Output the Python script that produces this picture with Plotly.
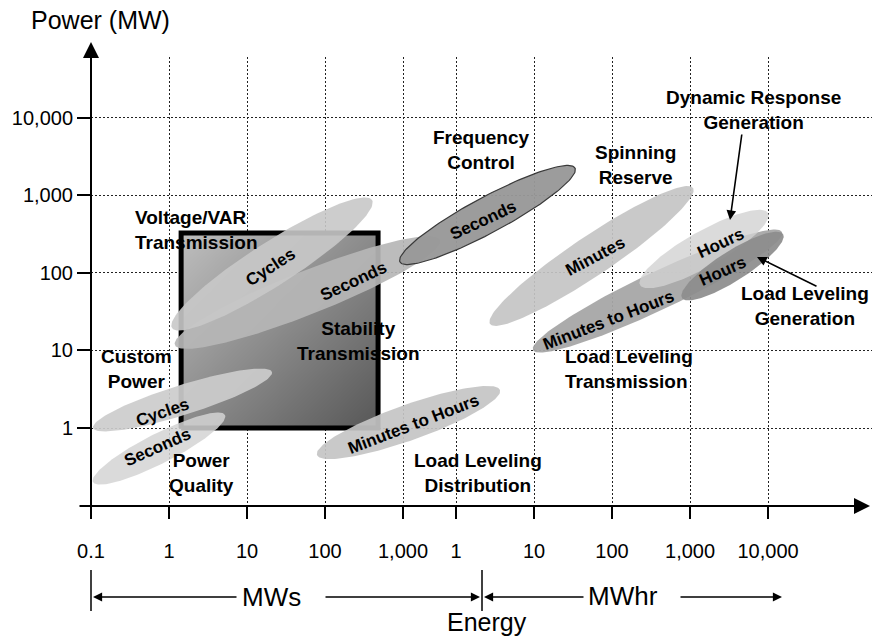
import numpy as np
import plotly.graph_objects as go

# ---------------- data ----------------
mw_ticks = [0.1, 1, 10, 100, 1000]
mw_tick_text = ["0.1", "1", "10", "100", "1,000"]
mwh_ticks = [1, 10, 100, 1000, 10000]
mwh_tick_text = ["1", "10", "100", "1,000", "10,000"]
power_ticks = [1, 10, 100, 1000, 10000]
power_tick_text = ["1", "10", "100", "1,000", "10,000"]

# Power Quality / Stability block: size (MW) and power (MW) extents
block_size_mw = [1.43, 479]
block_power_mw = [1, 326]

# discharge-duration bands (drawn in this order)
band_text = ["Minutes to Hours", "Seconds", "Cycles", "Seconds", "Cycles",
             "Seconds", "Minutes", "Minutes to Hours", "Hours", "Hours"]
band_from_size = [78.9, 0.106, 0.106, 1.19, 1.093, 915, 2.73, 9.7, 228.6, 789]
band_from_unit = ["MW", "MW", "MW", "MW", "MW", "MW", "MWh", "MWh", "MWh", "MWh"]
band_to_size = [3.66, 5.22, 20.9, 2980, 400.6, 33.5, 1092, 15110, 10000, 15570]
band_to_unit = ["MWh", "MW", "MW", "MW", "MW", "MWh", "MWh", "MWh", "MWh", "MWh"]
band_from_power = [0.449, 0.201, 1.0, 11.7, 19.4, 137.8, 21.9, 10.1, 69.6, 47.3]
band_to_power = [3.09, 1.47, 5.27, 264.7, 867, 2242, 1238, 335.6, 590, 316]
band_spread_dec = [0.46, 0.385, 0.385, 0.56, 0.56, 0.46, 0.51, 0.49, 0.46, 0.385]

# ---------------- styles / layout helpers ----------------
band_fill = ["rgba(196,196,196,0.92)", "rgba(212,212,212,0.85)", "rgba(204,204,204,0.92)",
             "rgba(182,182,182,0.92)", "rgba(200,200,200,0.90)", "rgba(152,152,152,0.96)",
             "rgba(196,196,196,0.92)", "rgba(166,166,166,0.95)", "rgba(210,210,210,0.80)",
             "rgba(140,140,140,0.92)"]
band_line = ["rgba(0,0,0,0)"] * 5 + ["#3a3a3a"] + ["rgba(0,0,0,0)"] * 4

FONT = "Arial, Liberation Sans, sans-serif"
W, H = 872, 638
PL, PR, PT, PB = 91, 872, 57, 506       # plot area in pixels
PX_DEC_X = 78.0
MWH_OFFSET = 4.68                        # decades from 0.1 MW to 1 MWh on the axis
Y_LO, Y_HI = -1.005, 4.781


def xpos(v, unit):
    return np.log10(v) + (1.0 if unit == "MW" else MWH_OFFSET)


def ypos(p):
    return np.log10(p)


def paper(px, py):
    return (px - PL) / (PR - PL), (PB - py) / (PB - PT)


def ellipse(x0, y0, x1, y1, spread, n=160):
    cx, cy = (x0 + x1) / 2, (y0 + y1) / 2
    a = np.hypot(x1 - x0, y1 - y0) / 2
    b = spread / 2
    th = np.arctan2(y1 - y0, x1 - x0)
    t = np.linspace(0, 2 * np.pi, n)
    ex, ey = a * np.cos(t), b * np.sin(t)
    return cx + ex * np.cos(th) - ey * np.sin(th), cy + ex * np.sin(th) + ey * np.cos(th)


fig = go.Figure()

# block with diagonal gradient
bx0, bx1 = xpos(block_size_mw[0], "MW"), xpos(block_size_mw[1], "MW")
by0, by1 = ypos(block_power_mw[0]), ypos(block_power_mw[1])
nx = ny = 40
xe = np.linspace(bx0, bx1, nx + 1)
ye = np.linspace(by0, by1, ny + 1)
uc = (np.arange(nx) + 0.5) / nx
vc = (np.arange(ny) + 0.5) / ny
z = (uc[None, :] + (1 - vc[:, None])) / 2
fig.add_trace(go.Heatmap(x=xe, y=ye, z=z, showscale=False, hoverinfo="skip",
                         colorscale=[[0, "#bdbdbd"], [1, "#585858"]], zsmooth="best"))
fig.add_trace(go.Scatter(x=[bx0, bx1, bx1, bx0, bx0], y=[by0, by0, by1, by1, by0],
                         mode="lines", line=dict(color="black", width=5),
                         hoverinfo="skip"))

# bands
for i in range(len(band_text)):
    ex, ey = ellipse(xpos(band_from_size[i], band_from_unit[i]), ypos(band_from_power[i]),
                     xpos(band_to_size[i], band_to_unit[i]), ypos(band_to_power[i]),
                     band_spread_dec[i])
    fig.add_trace(go.Scatter(x=ex, y=ey, mode="lines", fill="toself",
                             fillcolor=band_fill[i],
                             line=dict(color=band_line[i], width=1.2),
                             hoverinfo="skip", name=band_text[i]))

annotations = []


def text(t, px, py, size=19, bold=True, xanchor="center", align="center", angle=0):
    xp, yp = paper(px, py)
    annotations.append(dict(
        text=("<b>%s</b>" % t) if bold else t, x=xp, y=yp, xref="paper", yref="paper",
        showarrow=False, xanchor=xanchor, yanchor="middle", align=align,
        textangle=angle, font=dict(family=FONT, size=size, color="black")))


def arrow(hx, hy, tx, ty, width=2, head=2, size=1.0):
    xp, yp = paper(hx, hy)
    annotations.append(dict(
        x=xp, y=yp, xref="paper", yref="paper", ax=tx - hx, ay=ty - hy,
        axref="pixel", ayref="pixel", text="", showarrow=True,
        arrowhead=head, arrowsize=size, arrowwidth=width, arrowcolor="black"))


# axes with arrows
arrow(91, 42, 91, 518, width=2, head=2, size=1.6)
arrow(870, 506, 78, 506, width=2, head=2, size=1.6)

# region labels
text("Voltage/VAR<br>Transmission", 133, 230, xanchor="left", align="left")
text("Frequency<br>Control", 482, 150)
text("Spinning<br>Reserve", 635, 165)
text("Dynamic Response<br>Generation", 753, 110)
text("Load Leveling<br>Generation", 805, 306)
text("Load Leveling<br>Transmission", 563, 369, xanchor="left", align="left")
text("Load Leveling<br>Distribution", 478, 473)
text("Power<br>Quality", 201, 473)
text("Custom<br>Power", 136, 369)
text("Stability<br>Transmission", 358, 341)

# band labels (rotated)
text(band_text[0], 413, 424, size=17, angle=-21)
text(band_text[1], 157, 447, size=17, angle=-24)
text(band_text[2], 162, 412, size=17, angle=-19)
text(band_text[3], 353, 281, size=17, angle=-25)
text(band_text[4], 270, 267, size=17, angle=-33)
text(band_text[5], 483, 221, size=17, angle=-25)
text(band_text[6], 595, 256, size=17, angle=-28)
text(band_text[7], 608, 320, size=17, angle=-21)
text(band_text[8], 720, 243, size=17, angle=-25)
text(band_text[9], 722, 271, size=17, angle=-24)

# pointer arrows
arrow(730, 220, 742, 133, width=1.6, head=2, size=1.2)
arrow(757, 257, 818, 287, width=1.6, head=2, size=1.2)

# titles
text("Power (MW)", 100, 20, size=25, bold=False)
text("MWs", 271, 597, size=26, bold=False)
text("MWhr", 623, 596, size=26, bold=False)
text("Energy", 487, 622, size=25, bold=False)

# bottom range arrows
arrow(93, 597, 238, 597, width=1.4, head=2, size=1.3)
arrow(480, 597, 324, 597, width=1.4, head=2, size=1.3)
arrow(484, 597, 585, 597, width=1.4, head=2, size=1.3)
arrow(782, 597, 679, 597, width=1.4, head=2, size=1.3)

shapes = []
for bx in (91, 482):
    x0, y0 = paper(bx, 570)
    _, y1 = paper(bx, 611)
    shapes.append(dict(type="line", xref="paper", yref="paper", x0=x0, x1=x0, y0=y0, y1=y1,
                       line=dict(color="black", width=1.5)))

x_tickvals = [xpos(v, "MW") for v in mw_ticks] + [xpos(v, "MWh") for v in mwh_ticks]
x_ticktext = mw_tick_text + mwh_tick_text

fig.update_layout(
    width=W, height=H, margin=dict(l=PL, r=W - PR, t=PT, b=H - PB, pad=0),
    plot_bgcolor="white", paper_bgcolor="white", showlegend=False,
    font=dict(family=FONT, color="black"),
    annotations=annotations, shapes=shapes,
    xaxis=dict(range=[0, (PR - PL) / PX_DEC_X], tickmode="array", tickvals=x_tickvals,
               ticktext=x_ticktext, showgrid=True, gridcolor="#222222", gridwidth=1,
               griddash="2px,2px", zeroline=False, showline=False, ticks="outside",
               ticklen=12, tickwidth=2, tickcolor="black", ticklabelstandoff=15,
               tickfont=dict(family=FONT, size=20, color="black"), fixedrange=True),
    yaxis=dict(range=[Y_LO, Y_HI], tickmode="array",
               tickvals=[ypos(v) for v in power_ticks], ticktext=power_tick_text,
               showgrid=True, gridcolor="#222222", gridwidth=1, griddash="2px,2px",
               zeroline=False, showline=False, ticks="outside", ticklen=13, tickwidth=2,
               tickcolor="black", tickfont=dict(family=FONT, size=20, color="black"),
               fixedrange=True),
)

fig.write_html("out.html", config={"displayModeBar": False},
               post_script="document.body.style.margin='0';")
